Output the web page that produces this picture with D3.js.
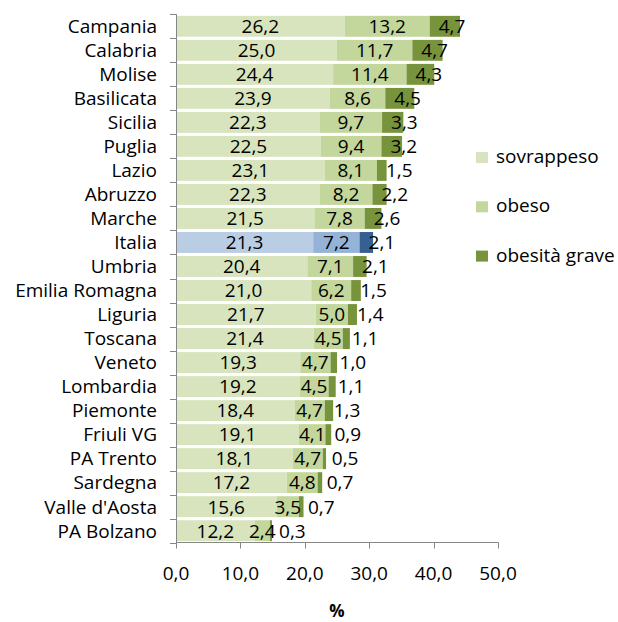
<!DOCTYPE html>
<html><head><meta charset="utf-8">
<script src="https://cdn.jsdelivr.net/npm/d3@7"></script>
<style>body{margin:0;background:#fff}svg{display:block}</style>
</head><body>
<svg id="c" width="618" height="622"></svg>
<script>
const categories = ["Campania","Calabria","Molise","Basilicata","Sicilia","Puglia","Lazio","Abruzzo","Marche","Italia","Umbria","Emilia Romagna","Liguria","Toscana","Veneto","Lombardia","Piemonte","Friuli VG","PA Trento","Sardegna","Valle d'Aosta","PA Bolzano"];
const sovrappeso = [26.2,25.0,24.4,23.9,22.3,22.5,23.1,22.3,21.5,21.3,20.4,21.0,21.7,21.4,19.3,19.2,18.4,19.1,18.1,17.2,15.6,12.2];
const obeso =      [13.2,11.7,11.4,8.6,9.7,9.4,8.1,8.2,7.8,7.2,7.1,6.2,5.0,4.5,4.7,4.5,4.7,4.1,4.7,4.8,3.5,2.4];
const obesitaGrave=[4.7,4.7,4.3,4.5,3.3,3.2,1.5,2.2,2.6,2.1,2.1,1.5,1.4,1.1,1.0,1.1,1.3,0.9,0.5,0.7,0.7,0.3];
const seriesNames = ["sovrappeso","obeso","obesità grave"];
const xTicks = [0,10,20,30,40,50];
const highlight = "Italia";

const greens = ["#d7e4bd","#c3d69b","#77933c"];
const blues = ["#b9cde5","#95b3d7","#376092"];
const font = "'Open Sans', sans-serif";
const fmt = v => v.toFixed(1).replace(".", ",");

const svg = d3.select("#c");
const x = d3.scaleLinear().domain([0,50]).range([176,498]);
const y = d3.scaleBand().domain(categories).range([14.3,542.7]).paddingInner(0.13).paddingOuter(0.065);

const rows = categories.map((c,i)=>({c, vals:[sovrappeso[i],obeso[i],obesitaGrave[i]]}));

const g = svg.append("g");
rows.forEach(r=>{
  let acc = 0;
  const cols = r.c===highlight ? blues : greens;
  r.vals.forEach((v,k)=>{
    const x0 = acc, x1 = acc+v;
    g.append("rect").attr("x",x(x0)).attr("y",y(r.c)).attr("width",x(x1)-x(x0)).attr("height",y.bandwidth()).attr("fill",cols[k]);
    acc = x1;
  });
});
// labels
rows.forEach(r=>{
  let acc = 0;
  r.vals.forEach((v,k)=>{
    const x0 = acc, x1 = acc+v;
    const t = g.append("text").attr("y",y(r.c)+y.bandwidth()/2).attr("dy","0.36em")
      .attr("font-family",font).attr("font-size",19).attr("fill","#000").text(fmt(v));
    if(k<2){ t.attr("x",(x(x0)+x(x1))/2).attr("text-anchor","middle"); }
    else { t.attr("x",x(x0)+9).attr("text-anchor","start"); }
    acc = x1;
  });
});

// axes
const axCol = "#868686";
const ax = svg.append("g").attr("stroke",axCol).attr("stroke-width",1).attr("fill","none");
ax.append("line").attr("x1",176.5).attr("x2",176.5).attr("y1",14.3).attr("y2",543);
ax.append("line").attr("x1",176).attr("x2",498.5).attr("y1",542.5).attr("y2",542.5);
const bounds = categories.map(c=>y(c)-y.step()*y.paddingInner()/2).concat([542.7]);
bounds.forEach(b=>{ ax.append("line").attr("x1",170).attr("x2",176.5).attr("y1",Math.round(b)+0.5).attr("y2",Math.round(b)+0.5); });
xTicks.forEach(t=>{ ax.append("line").attr("x1",Math.round(x(t))+0.5).attr("x2",Math.round(x(t))+0.5).attr("y1",542.5).attr("y2",548.5); });

// category labels
svg.append("g").selectAll("text").data(categories).join("text")
  .attr("x",157).attr("y",c=>y(c)+y.bandwidth()/2).attr("dy","0.36em")
  .attr("text-anchor","end").attr("font-family",font).attr("font-size",19).attr("fill","#000").text(d=>d);

// x tick labels
svg.append("g").selectAll("text").data(xTicks).join("text")
  .attr("x",d=>x(d)).attr("y",580).attr("text-anchor","middle")
  .attr("font-family",font).attr("font-size",19).attr("fill","#000").text(d=>fmt(d));

svg.append("text").attr("x",(x(0)+x(50))/2).attr("y",617).attr("text-anchor","middle")
  .attr("font-family",font).attr("font-size",17).attr("font-weight","bold").attr("fill","#000").text("%");

// legend
const leg = svg.append("g");
seriesNames.forEach((s,i)=>{
  const by = 163 + i*49.3;
  leg.append("rect").attr("x",476).attr("y",by-11).attr("width",12).attr("height",11).attr("fill",greens[i]);
  leg.append("text").attr("x",496).attr("y",by).attr("font-family",font).attr("font-size",19).attr("fill","#000").text(s);
});
</script>
</body></html>
